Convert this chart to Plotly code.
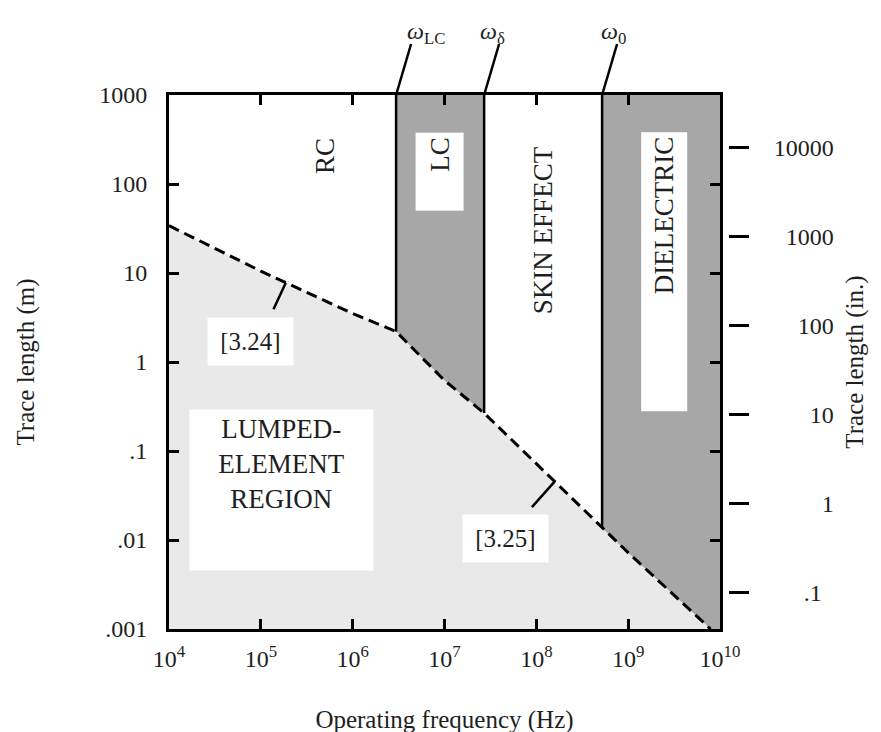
import numpy as np
import plotly.graph_objects as go

# ---------------- data ----------------
freq_ticks = [1e4, 1e5, 1e6, 1e7, 1e8, 1e9, 1e10]
freq_tick_labels = ["10<sup>4</sup>", "10<sup>5</sup>", "10<sup>6</sup>", "10<sup>7</sup>",
                    "10<sup>8</sup>", "10<sup>9</sup>", "10<sup>10</sup>"]
len_m_ticks = [0.001, 0.01, 0.1, 1, 10, 100, 1000]
len_m_labels = [".001", ".01", ".1", "1", "10", "100", "1000"]
len_in_ticks = [0.1, 1, 10, 100, 1000, 10000]
len_in_labels = [".1", "1", "10", "100", "1000", "10000"]
M_TO_IN = 39.37

# lumped-element boundary (dashed line), metres vs Hz
boundary_freq = [1e4, 1e5, 1e6, 2.97e6, 1e7, 2.7e7, 1e8, 5.2e8, 1e9, 7.9e9]
boundary_len = [34, 10.5, 3.5, 2.2, 0.62, 0.267, 0.072, 0.0136, 0.0072, 0.001]

omega_subs = ["LC", "δ", "0"]
omega_freq = [2.97e6, 2.7e7, 5.2e8]

region_names = ["RC", "LC", "SKIN EFFECT", "DIELECTRIC", "LUMPED-<br>ELEMENT<br>REGION"]
equation_refs = ["[3.24]", "[3.25]"]
equation_ref_freq = [1.87e5, 1.58e8]

# ---------------- helpers ----------------
FONT = "Liberation Serif, Times New Roman, serif"
TXT = "#1e1e1e"
DARK = "#a7a7a7"
LIGHT = "#e9e9e9"

lf = np.log10(boundary_freq)
ll = np.log10(boundary_len)


def boundary_at(f):
    return float(10 ** np.interp(np.log10(f), lf, ll))


x_min, x_max = freq_ticks[0], freq_ticks[-1]
y_min, y_max = len_m_ticks[0], len_m_ticks[-1]

fig = go.Figure()

# light lumped region below the boundary
fig.add_trace(go.Scatter(
    x=boundary_freq + [x_min], y=boundary_len + [y_min],
    fill="toself", fillcolor=LIGHT, line=dict(width=0), mode="lines",
    hoverinfo="skip", showlegend=False))

bf = np.array(boundary_freq)
bl = np.array(boundary_len)

# LC band (dark)
m = (bf >= omega_freq[0]) & (bf <= omega_freq[1])
fig.add_trace(go.Scatter(
    x=list(bf[m]) + [omega_freq[1], omega_freq[0]],
    y=list(bl[m]) + [y_max, y_max],
    fill="toself", fillcolor=DARK, line=dict(width=0), mode="lines",
    hoverinfo="skip", showlegend=False))

# Dielectric band (dark)
m = bf >= omega_freq[2]
fig.add_trace(go.Scatter(
    x=list(bf[m]) + [x_max, x_max, omega_freq[2]],
    y=list(bl[m]) + [y_min, y_max, y_max],
    fill="toself", fillcolor=DARK, line=dict(width=0), mode="lines",
    hoverinfo="skip", showlegend=False))

# vertical omega lines
for f in omega_freq:
    fig.add_trace(go.Scatter(
        x=[f, f], y=[boundary_at(f), y_max], mode="lines",
        line=dict(color="black", width=2.5), hoverinfo="skip", showlegend=False))

# dashed boundary
fig.add_trace(go.Scatter(
    x=boundary_freq, y=boundary_len, mode="lines",
    line=dict(color="black", width=3, dash="11px,6px"),
    hoverinfo="skip", showlegend=False))

# invisible trace on the inch axis so it is drawn
fig.add_trace(go.Scatter(
    x=[x_min] * len(len_in_ticks), y=len_in_ticks, yaxis="y2",
    mode="markers", marker=dict(opacity=0), hoverinfo="skip", showlegend=False))

# right-aligned inch labels (figure-space padding)
maxlen = max(len(s) for s in len_in_labels)
pad_labels = []
for s in len_in_labels:
    digits = sum(c.isdigit() for c in s)
    dots = s.count(".")
    pad = "\u2007" * (maxlen - digits - dots * 2) + ("\u2008" if dots else "")
    pad_labels.append(pad + s)

ann = []
shapes = []
# omega labels and leader lines
omega_text_shift = [30, 8, 11]
for name, f, xs in zip(omega_subs, omega_freq, omega_text_shift):
    shapes.append(dict(type="line", xref="x", yref="paper",
                       xsizemode="pixel", ysizemode="pixel",
                       xanchor=f, yanchor=1, x0=0, y0=0, x1=15, y1=51,
                       line=dict(color="black", width=2.5)))
    ann.append(dict(x=np.log10(f), y=np.log10(y_max), xref="x", yref="y",
                    text="<i>ω</i><sub>" + name + "</sub>", showarrow=False,
                    xshift=xs, yshift=62,
                    font=dict(family=FONT, size=24, color=TXT)))

rfont = dict(family=FONT, size=27, color=TXT)
# RC
ann.append(dict(x=5.70, y=2.315, xref="x", yref="y", text=region_names[0],
                showarrow=False, textangle=-90, font=rfont))
# LC (white box)
ann.append(dict(x=6.947, y=2.14, xref="x", yref="y", text=region_names[1],
                showarrow=False, textangle=-90, font=rfont, bgcolor="white",
                width=69, height=39, borderpad=4, align="right"))
# SKIN EFFECT
ann.append(dict(x=8.074, y=1.483, xref="x", yref="y", text=region_names[2],
                showarrow=False, textangle=-90, font=rfont))
# DIELECTRIC (white box)
ann.append(dict(x=9.387, y=1.011, xref="x", yref="y", text=region_names[3],
                showarrow=False, textangle=-90, font=rfont, bgcolor="white",
                width=270, height=37, borderpad=4, align="right"))
# LUMPED-ELEMENT REGION
ann.append(dict(x=5.225, y=-1.438, xref="x", yref="y", text=region_names[4],
                showarrow=False, font=rfont, bgcolor="white",
                width=175, height=152, borderpad=4, valign="top", align="center"))

# equation references with pointer lines
eq_box = [(4.888, 0.230), (7.666, -1.978)]
eq_tail = [(-13, 28), (-24, 27)]
for txt, f, (bx, by), (tx, ty) in zip(equation_refs, equation_ref_freq, eq_box, eq_tail):
    ann.append(dict(x=np.log10(f), y=np.log10(boundary_at(f)), xref="x", yref="y",
                    text="", showarrow=True, arrowhead=0, arrowwidth=2.5,
                    arrowcolor="black", ax=tx, ay=ty, standoff=0))
    ann.append(dict(x=bx, y=by, xref="x", yref="y", text=txt, showarrow=False,
                    font=dict(family=FONT, size=25, color=TXT), bgcolor="white",
                    width=77, height=39, borderpad=4))

W, H = 881, 732
ml, mr, mt, mb = 161, 161, 87, 111
plot_w = W - ml - mr
dom_end = 551 / plot_w

axis_font = dict(family=FONT, size=24, color=TXT)
title_font = dict(family=FONT, size=25, color=TXT)

fig.update_layout(
    width=W, height=H,
    margin=dict(l=ml, r=mr, t=mt, b=mb, autoexpand=False),
    paper_bgcolor="white", plot_bgcolor="white",
    showlegend=False,
    annotations=ann,
    shapes=shapes,
    xaxis=dict(
        type="log", range=[np.log10(x_min), np.log10(x_max)], domain=[0, dom_end],
        tickvals=freq_ticks, ticktext=freq_tick_labels,
        ticks="inside", ticklen=10, tickwidth=2.5, tickcolor="black",
        showline=True, linewidth=3, linecolor="black", mirror="ticks",
        showgrid=False, zeroline=False, tickfont=axis_font,
        ticklabelstandoff=6, automargin=False,
        title=dict(text="Operating frequency (Hz)", font=title_font, standoff=40),
    ),
    yaxis=dict(
        type="log", range=[np.log10(y_min), np.log10(y_max)],
        tickvals=len_m_ticks, ticktext=len_m_labels,
        ticks="inside", ticklen=10, tickwidth=2.5, tickcolor="black",
        showline=True, linewidth=3, linecolor="black", mirror="ticks",
        showgrid=False, zeroline=False, tickfont=axis_font,
        ticklabelstandoff=14, automargin=False,
        title=dict(text="Trace length (m)", font=title_font, standoff=58),
    ),
    yaxis2=dict(
        type="log", overlaying="y", side="right", anchor="free", position=1.0,
        range=[np.log10(y_min * M_TO_IN), np.log10(y_max * M_TO_IN)],
        tickvals=len_in_ticks, ticktext=pad_labels,
        ticks="outside", ticklen=20, tickwidth=3, tickcolor="black",
        showline=False, showgrid=False, zeroline=False, tickfont=axis_font,
        ticklabelstandoff=20, automargin=False,
        title=dict(text="Trace length (in.)", font=title_font, standoff=12),
    ),
)

fig.write_html("out.html")
